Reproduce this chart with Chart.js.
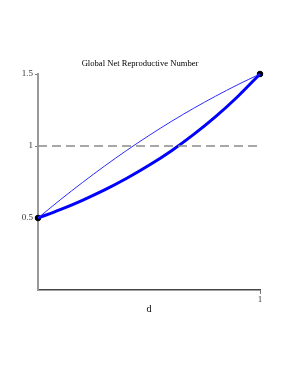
<!DOCTYPE html>
<html>
<head>
<meta charset="utf-8">
<script src="https://cdn.jsdelivr.net/npm/chart.js@4"></script>
<style>
  html, body { margin: 0; padding: 0; background: #fff; }
  #wrap { width: 287px; height: 372px; }
</style>
</head>
<body>
<div id="wrap"><canvas id="grafico" width="287" height="372"></canvas></div>
<script>
// valores
const dValores = [0, 0.1, 0.2, 0.3, 0.4, 0.5, 0.6, 0.7, 0.8, 0.9, 1];
const curvaFina = [0.5, 0.626, 0.746, 0.861, 0.97, 1.073, 1.17, 1.261, 1.346, 1.426, 1.5];
const curvaGruesa = [0.5, 0.558, 0.623, 0.695, 0.776, 0.866, 0.966, 1.079, 1.204, 1.344, 1.5];
const umbral = [1, 1];
const extremosD = [0, 1];
const extremosR = [0.5, 1.5];
const ticksY = [0.5, 1, 1.5];
const ticksX = [1];
const titulo = 'Global Net Reproductive Number';

function pares(xs, ys) {
    return xs.map((x, i) => ({ x: x, y: ys[i] }));
}

// titulo dibujado a mano para centrarlo como en el original
const tituloPlugin = {
    id: 'tituloPlugin',
    afterDraw(chart) {
        const c = chart.ctx;
        c.save();
        c.font = '8.6px "Liberation Serif"';
        c.fillStyle = '#000';
        c.textAlign = 'center';
        c.textBaseline = 'middle';
        c.fillText(titulo, 140, 64);
        c.restore();
    }
};

window.onload = function(){

    const ctx = document.getElementById('grafico');

    new Chart(ctx, {
        type: 'line',
        data: {
            datasets: [
                {
                    data: pares(extremosD, umbral),
                    borderColor: '#8a8a8a',
                    borderWidth: 1.5,
                    borderDash: [9, 5],
                    pointRadius: 0
                },
                {
                    data: pares(dValores, curvaFina),
                    borderColor: '#2a2aff',
                    borderWidth: 1,
                    cubicInterpolationMode: 'monotone',
                    pointRadius: 0
                },
                {
                    data: pares(dValores, curvaGruesa),
                    borderColor: '#0000ff',
                    borderWidth: 3,
                    cubicInterpolationMode: 'monotone',
                    pointRadius: 0
                },
                {
                    data: pares(extremosD, extremosR),
                    showLine: false,
                    pointRadius: 2.8,
                    pointBackgroundColor: '#000',
                    pointBorderColor: '#000'
                }
            ]
        },
        options: {
            responsive: false,
            animation: false,
            clip: false,
            layout: { padding: { top: 74, right: 27, bottom: 0, left: 0 } },
            plugins: {
                legend: { display: false },
                tooltip: { enabled: false },
                title: { display: false }
            },
            scales: {
                x: {
                    type: 'linear',
                    min: 0,
                    max: 1,
                    afterBuildTicks: s => { s.ticks = ticksX.map(v => ({ value: v })); },
                    afterFit: s => { s.height = 82; },
                    ticks: {
                        color: '#333',
                        padding: 0,
                        font: { family: 'Liberation Serif', size: 9 },
                        callback: v => String(v)
                    },
                    grid: { drawOnChartArea: false, drawTicks: true, tickLength: 4, color: '#777' },
                    border: { color: '#444', width: 1.5 },
                    title: {
                        display: true,
                        text: 'd',
                        color: '#000',
                        font: { family: 'Liberation Serif', size: 10 },
                        padding: { top: 0, bottom: 57 }
                    }
                },
                y: {
                    min: 0,
                    max: 1.5,
                    afterBuildTicks: s => { s.ticks = ticksY.map(v => ({ value: v })); },
                    afterFit: s => { s.width = 38; },
                    ticks: {
                        color: '#333',
                        padding: 2,
                        font: { family: 'Liberation Serif', size: 9 },
                        callback: v => String(v)
                    },
                    grid: { drawOnChartArea: false, drawTicks: true, tickLength: 3, color: '#777' },
                    border: { color: '#999', width: 2 }
                }
            }
        },
        plugins: [tituloPlugin]
    });

}
</script>
</body>
</html>
